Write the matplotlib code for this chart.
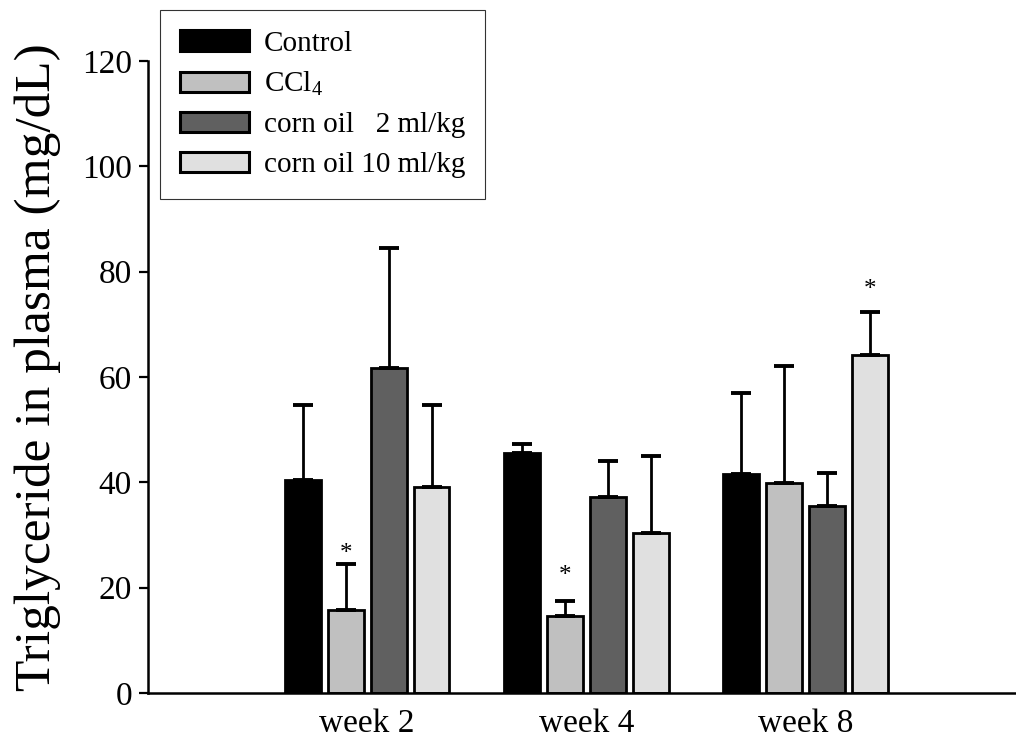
import numpy as np
import matplotlib
matplotlib.use("Agg")
import matplotlib.pyplot as plt
from matplotlib.patches import Patch

plt.rcParams['font.family'] = ['Liberation Serif', 'DejaVu Serif']
plt.rcParams['mathtext.fontset'] = 'custom'
plt.rcParams['mathtext.rm'] = 'Liberation Serif'
plt.rcParams['mathtext.it'] = 'Liberation Serif:italic'

# Data: mean triglyceride (mg/dL) and SD per group
weeks = ["week 2", "week 4", "week 8"]
series = ["Control", "CCl$_4$", "corn oil   2 ml/kg", "corn oil 10 ml/kg"]
control = [40.4, 45.5, 41.6]
ccl4 = [15.8, 14.7, 39.9]
corn2 = [61.8, 37.3, 35.6]
corn10 = [39.2, 30.4, 64.1]
control_sd = [14.2, 1.7, 15.3]
ccl4_sd = [8.7, 2.8, 22.2]
corn2_sd = [22.6, 6.7, 6.1]
corn10_sd = [15.4, 14.6, 8.2]
colors = ["#000000", "#c0c0c0", "#606060", "#e0e0e0"]

# significance marks: (week index, series index, height in mg/dL)
sig_week = [0, 1, 2]
sig_series = [1, 1, 3]
sig_y = [26.9, 22.8, 77.1]

y_ticks = [0, 20, 40, 60, 80, 100, 120]

means = [control, ccl4, corn2, corn10]
sds = [control_sd, ccl4_sd, corn2_sd, corn10_sd]

fig = plt.figure(figsize=(10.16, 7.40), dpi=100)
ax = fig.add_axes([148 / 1016, 47 / 740, 868 / 1016, 632 / 740])

centers = np.arange(1, len(weeks) + 1)
step = 0.196
width = 0.163

for i, (m, s) in enumerate(zip(means, sds)):
    x = centers + (i - 1.5) * step
    ax.bar(x, m, width=width, color=colors[i], edgecolor="black",
           linewidth=2.0, zorder=2, label=series[i])
    ax.errorbar(x, m, yerr=[np.zeros(len(s)), s], fmt="none",
                ecolor="black", elinewidth=2.0, capsize=7.5, capthick=2.8,
                zorder=3)

for w, si, y in zip(sig_week, sig_series, sig_y):
    x = centers[w] + (si - 1.5) * step
    ax.annotate("*", xy=(x, y), xytext=(0, -0.36 * 18), textcoords="offset points",
                ha="center", va="baseline", fontsize=18, zorder=4)

ax.set_xlim(0, 3.96)
ax.set_ylim(0, 120)
ax.set_xticks(centers)
ax.set_xticklabels(weeks, fontsize=24)
ax.set_yticks(y_ticks)
ax.set_yticklabels([str(v) for v in y_ticks], fontsize=24)
ax.tick_params(axis="x", length=0, pad=11)
ax.tick_params(axis="y", direction="out", length=6.5, width=1.6, pad=5)
ax.set_ylabel("Triglyceride in plasma (mg/dL)", fontsize=37, labelpad=14)
ax.yaxis.set_label_coords(-0.100, 0.515)

for side in ("top", "right"):
    ax.spines[side].set_visible(False)
for side in ("left", "bottom"):
    ax.spines[side].set_linewidth(1.8)

handles = [Patch(facecolor=c, edgecolor="black", linewidth=2.2) for c in colors]
leg = fig.legend(handles, series, loc="upper left",
                 bbox_to_anchor=(160 / 1016, 1 - 10 / 740),
                 bbox_transform=fig.transFigure, borderaxespad=0,
                 fontsize=21, frameon=True, fancybox=False,
                 handlelength=2.35, handleheight=0.7, handletextpad=0.5,
                 labelspacing=0.46, borderpad=0.7)
leg.get_frame().set_edgecolor("black")
leg.get_frame().set_linewidth(0.8)

fig.savefig("out.png", dpi=100)
